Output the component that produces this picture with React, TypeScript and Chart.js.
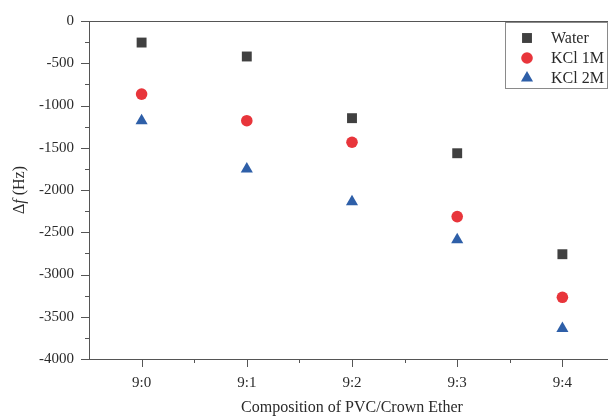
import React, { useEffect, useRef } from "react";
import { Chart, registerables } from "chart.js";

Chart.register(...registerables);

const categories = ["9:0", "9:1", "9:2", "9:3", "9:4"];
const water = [-255, -420, -1150, -1565, -2760];
const kcl1M = [-865, -1180, -1435, -2315, -3270];
const kcl2M = [-1180, -1750, -2140, -2590, -3640];
const seriesNames = ["Water", "KCl 1M", "KCl 2M"];
const seriesColors = ["#404040", "#e8353b", "#2e5fa8"];
const seriesShapes = ["rect", "circle", "triangle"];
const yMin = -4000;
const yMax = 0;
const yStep = 500;
const xTitle = "Composition of PVC/Crown Ether";

const FONT = "'Liberation Serif', 'Times New Roman', serif";
const TEXT = "#2a2a2a";
const AXIS = "#555555";

function drawShape(ctx: CanvasRenderingContext2D, shape: string, x: number, y: number, r: number, color: string) {
  ctx.fillStyle = color;
  ctx.beginPath();
  if (shape === "rect") {
    const s = Math.SQRT1_2 * r;
    ctx.rect(x - s, y - s, 2 * s, 2 * s);
  } else if (shape === "circle") {
    ctx.arc(x, y, r * 0.83, 0, Math.PI * 2);
  } else {
    ctx.moveTo(x, y - r);
    ctx.lineTo(x + r * Math.sin(Math.PI / 3), y + r * 0.5);
    ctx.lineTo(x - r * Math.sin(Math.PI / 3), y + r * 0.5);
    ctx.closePath();
  }
  ctx.fill();
}

const decorPlugin = {
  id: "decor",
  afterDraw(chart: any) {
    const { ctx, chartArea: a, scales } = chart;
    const x = scales.x;
    const y = scales.y;
    ctx.save();
    ctx.strokeStyle = AXIS;
    ctx.lineWidth = 1;
    // top border
    const ty = Math.round(a.top) + 0.5;
    ctx.beginPath();
    ctx.moveTo(a.left, ty);
    ctx.lineTo(a.right, ty);
    ctx.stroke();
    // y ticks (major + minor)
    for (let v = yMax; v >= yMin; v -= yStep / 2) {
      const py = Math.round(y.getPixelForValue(v)) + 0.5;
      const len = v % yStep === 0 ? 8 : 4;
      ctx.beginPath();
      ctx.moveTo(a.left - len, py);
      ctx.lineTo(a.left, py);
      ctx.stroke();
    }
    // x ticks (major + minor)
    for (let i = 0; i < categories.length; i++) {
      const px = Math.round(x.getPixelForValue(i)) + 0.5;
      ctx.beginPath();
      ctx.moveTo(px, a.bottom);
      ctx.lineTo(px, a.bottom + 8);
      ctx.stroke();
      const mx = Math.round(x.getPixelForValue(i + 0.5)) + 0.5;
      ctx.beginPath();
      ctx.moveTo(mx, a.bottom);
      ctx.lineTo(mx, a.bottom + 4);
      ctx.stroke();
    }
    // y axis title: Δf (Hz) with italic f
    ctx.fillStyle = TEXT;
    ctx.textBaseline = "middle";
    const parts = [
      { t: "Δ", f: `16px ${FONT}` },
      { t: "f", f: `italic 16px ${FONT}` },
      { t: " (Hz)", f: `16px ${FONT}` },
    ];
    let total = 0;
    for (const p of parts) {
      ctx.font = p.f;
      total += ctx.measureText(p.t).width;
    }
    ctx.save();
    ctx.translate(20, (a.top + a.bottom) / 2);
    ctx.rotate(-Math.PI / 2);
    let cx = -total / 2;
    ctx.textAlign = "left";
    for (const p of parts) {
      ctx.font = p.f;
      ctx.fillText(p.t, cx, 0);
      cx += ctx.measureText(p.t).width;
    }
    ctx.restore();
    // legend
    const lx = 505.5;
    const lt = 22.5;
    const lw = 102;
    const lh = 66;
    ctx.fillStyle = "#ffffff";
    ctx.fillRect(lx, lt, lw, lh);
    ctx.strokeStyle = "#8a8a8a";
    ctx.strokeRect(lx, lt, lw, lh);
    ctx.font = `16px ${FONT}`;
    ctx.textAlign = "left";
    ctx.textBaseline = "middle";
    for (let i = 0; i < seriesNames.length; i++) {
      const ry = 38 + i * 20;
      drawShape(ctx, seriesShapes[i], 527, ry, 7, seriesColors[i]);
      ctx.fillStyle = TEXT;
      ctx.fillText(seriesNames[i], 551, ry + 1);
    }
    ctx.restore();
  },
};

export default function App() {
  const ref = useRef<HTMLCanvasElement | null>(null);
  useEffect(() => {
    if (!ref.current) return;
    const mk = (label: string, data: number[], i: number) => ({
      label,
      data,
      showLine: false,
      pointStyle: seriesShapes[i],
      pointRadius: i === 1 ? 5.8 : 7,
      pointBackgroundColor: seriesColors[i],
      pointBorderColor: seriesColors[i],
      pointBorderWidth: 0,
      backgroundColor: seriesColors[i],
      borderColor: seriesColors[i],
    });
    const chart = new Chart(ref.current, {
      type: "line",
      data: {
        labels: categories,
        datasets: [mk(seriesNames[0], water, 0), mk(seriesNames[1], kcl1M, 1), mk(seriesNames[2], kcl2M, 2)],
      },
      plugins: [decorPlugin],
      options: {
        responsive: false,
        animation: false,
        events: [],
        layout: { padding: { top: 21, right: 0, left: 0, bottom: 0 } },
        plugins: { legend: { display: false }, tooltip: { enabled: false } },
        font: { family: FONT },
        elements: { point: { hitRadius: 0 } },
        scales: {
          x: {
            type: "category",
            offset: true,
            grid: { display: false, drawTicks: false },
            border: { display: true, color: AXIS, width: 1 },
            ticks: { color: TEXT, font: { family: FONT, size: 15 }, padding: 15, maxRotation: 0 },
            title: { display: true, text: xTitle, color: TEXT, font: { family: FONT, size: 16 }, padding: { top: 0, bottom: 0 } },
            afterFit: (s: any) => { s.height = 58; s.paddingLeft = 0; s.paddingRight = 0; },
          },
          y: {
            type: "linear",
            min: yMin,
            max: yMax,
            ticks: {
              stepSize: yStep,
              color: TEXT,
              font: { family: FONT, size: 15 },
              padding: 15,
              callback: (v: any) => String(v),
            },
            grid: { display: false, drawTicks: false },
            border: { display: true, color: AXIS, width: 1 },
            afterFit: (s: any) => { s.width = 89; s.paddingTop = 0; s.paddingBottom = 0; },
          },
        },
      },
    } as any);
    return () => chart.destroy();
  }, []);
  return (
    <div style={{ position: "fixed", left: 0, top: 0, width: 608, height: 417, overflow: "hidden", background: "#fff" }}>
      <canvas ref={ref} width={622} height={417} style={{ display: "block", width: 622, height: 417 }} />
    </div>
  );
}
